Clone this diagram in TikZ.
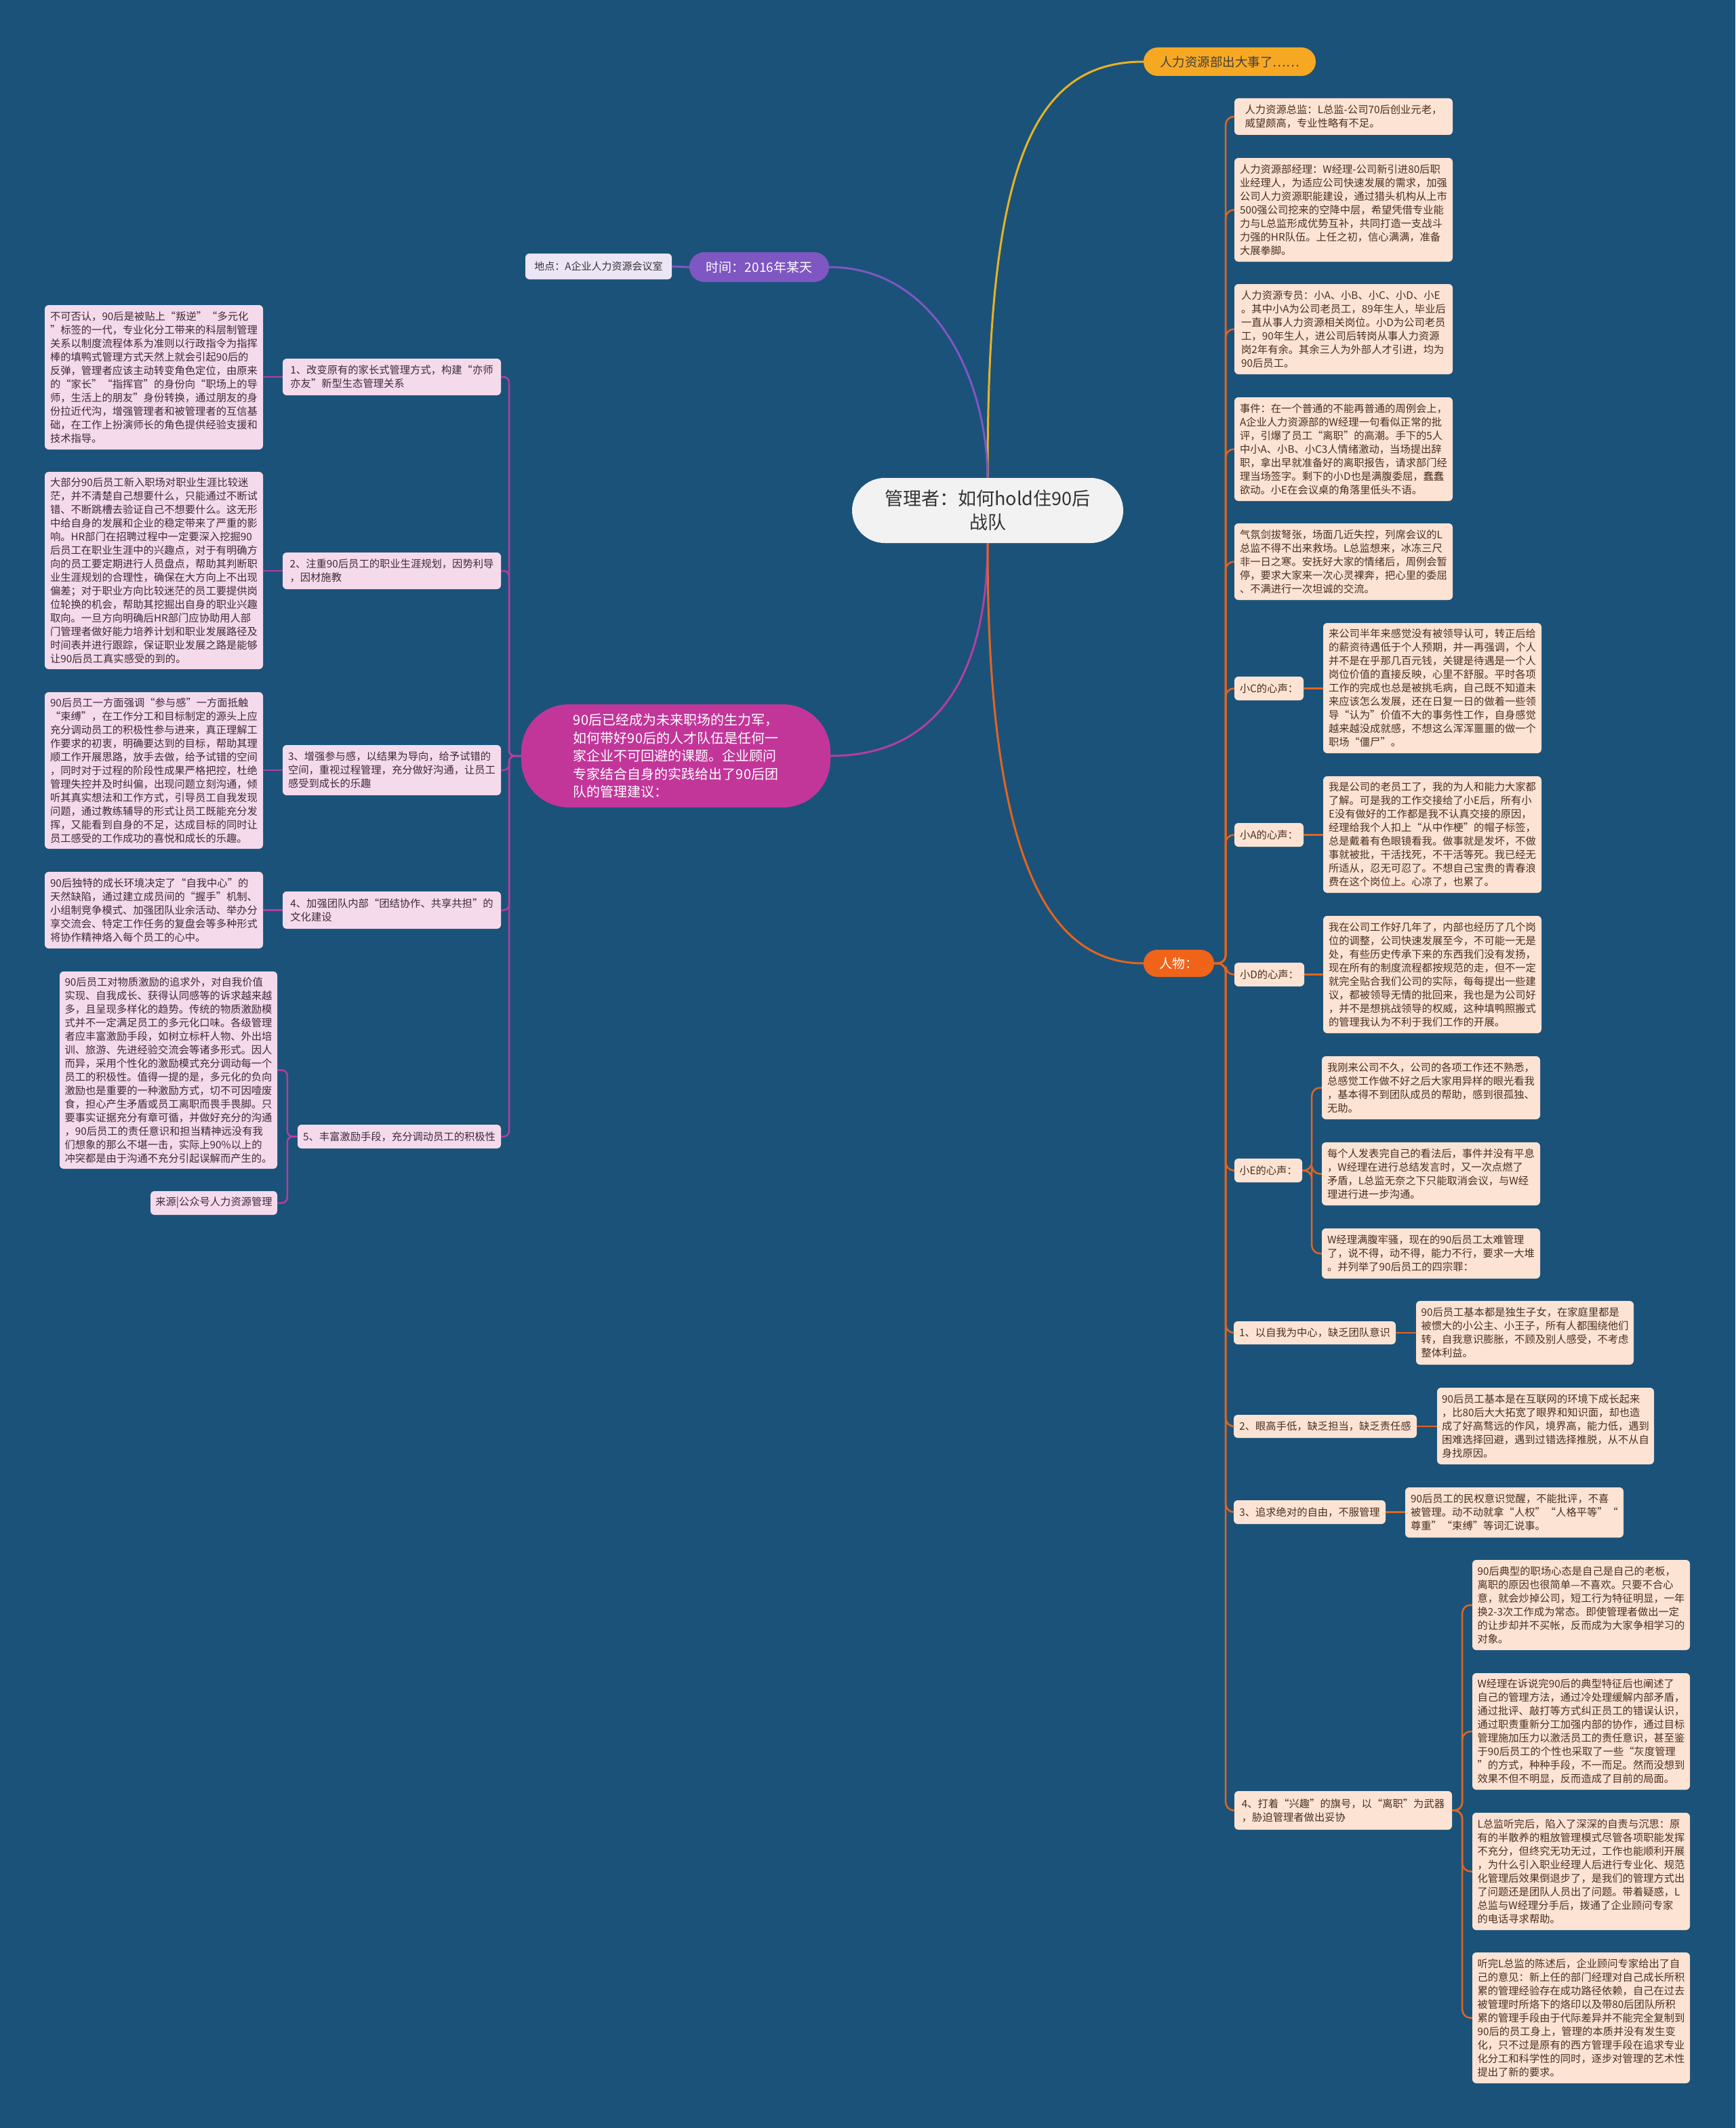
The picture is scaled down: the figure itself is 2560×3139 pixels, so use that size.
\documentclass[tikz,border=0pt]{standalone}
\usepackage{fontspec}
\setmainfont{Noto Sans CJK SC}
\definecolor{bg}{HTML}{1B5279}
\definecolor{peach}{HTML}{FCE3D3}
\definecolor{pchtext}{HTML}{4A3022}
\definecolor{pinkbox}{HTML}{F5DAEC}
\definecolor{pnktext}{HTML}{3D2A3A}
\definecolor{orline}{HTML}{E2651F}
\definecolor{renwuc}{HTML}{F0641A}
\definecolor{topc}{HTML}{F7A823}
\definecolor{yline}{HTML}{E8B224}
\definecolor{purp}{HTML}{7E57C2}
\definecolor{lav}{HTML}{ECE5F6}
\definecolor{magc}{HTML}{C2369A}
\definecolor{magl}{HTML}{B23FA0}
\definecolor{centc}{HTML}{F2F2F2}
\tikzset{
  bx/.style n args={4}{minimum width=#3, minimum height=#4, at={(#1+#3/2,#2+#4/2)}},
  base/.style={draw=none, rounded corners=6, inner sep=3, align=left, font=\fontsize{15.3}{20}\selectfont},
  pch/.style={base, fill=peach, text=pchtext},
  pnk/.style={base, fill=pinkbox, text=pnktext},
  oline/.style={draw=orline, line width=2.5, rounded corners=12},
  mline/.style={draw=magl, line width=2.5, rounded corners=8},
}
\begin{document}
\begin{tikzpicture}[x=1pt,y=-1pt]
\fill[bg] (0,0) rectangle (2560,3139);
\useasboundingbox (0,0) rectangle (2560,3139);

% ---------- main nodes ----------
\node[bx={1257}{705}{400}{96}, fill=centc, rounded corners=48, text=black!80, align=center, font=\fontsize{27}{35}\selectfont] (c) {管理者：如何hold住90后\\战队};
\node[bx={1687}{70}{254}{42}, fill=topc, rounded corners=21, text=black!75, font=\fontsize{18.5}{22}\selectfont] (top) {人力资源部出大事了……};
\node[bx={1017}{372}{206}{44}, fill=purp, rounded corners=22, text=white, font=\fontsize{19}{22}\selectfont] (time) {时间：2016年某天};
\node[bx={775}{374}{216}{38}, fill=lav, rounded corners=6, text=black!80, font=\fontsize{15}{18}\selectfont] (place) {地点：A企业人力资源会议室};
\node[bx={769}{1039}{456}{152}, fill=magc, rounded corners=70, text=white, align=left, font=\fontsize{20}{26.5}\selectfont] (mag) {90后已经成为未来职场的生力军，\\如何带好90后的人才队伍是任何一\\家企业不可回避的课题。企业顾问\\专家结合自身的实践给出了90后团\\队的管理建议：};
\node[bx={1687}{1401}{104}{40}, fill=renwuc, rounded corners=20, text=white, font=\fontsize{19}{22}\selectfont] (renwu) {人物：};

% ---------- right side ----------
\node[pch, bx={1821}{145}{322}{54}] (r1) {人力资源总监：L总监-公司70后创业元老，\\威望颇高，专业性略有不足。};
\node[pch, bx={1821}{233}{322}{153}] (r2) {人力资源部经理：W经理-公司新引进80后职\\业经理人，为适应公司快速发展的需求，加强\\公司人力资源职能建设，通过猎头机构从上市\\500强公司挖来的空降中层，希望凭借专业能\\力与L总监形成优势互补，共同打造一支战斗\\力强的HR队伍。上任之初，信心满满，准备\\大展拳脚。};
\node[pch, bx={1821}{419}{322}{133}] (r3) {人力资源专员：小A、小B、小C、小D、小E\\。其中小A为公司老员工，89年生人，毕业后\\一直从事人力资源相关岗位。小D为公司老员\\工，90年生人，进公司后转岗从事人力资源\\岗2年有余。其余三人为外部人才引进，均为\\90后员工。};
\node[pch, bx={1821}{586}{322}{153}] (r4) {事件：在一个普通的不能再普通的周例会上，\\A企业人力资源部的W经理一句看似正常的批\\评，引爆了员工“离职”的高潮。手下的5人\\中小A、小B、小C3人情绪激动，当场提出辞\\职，拿出早就准备好的离职报告，请求部门经\\理当场签字。剩下的小D也是满腹委屈，蠢蠢\\欲动。小E在会议桌的角落里低头不语。};
\node[pch, bx={1821}{772}{322}{113}] (r5) {气氛剑拔弩张，场面几近失控，列席会议的L\\总监不得不出来救场。L总监想来，冰冻三尺\\非一日之寒。安抚好大家的情绪后，周例会暂\\停，要求大家来一次心灵裸奔，把心里的委屈\\、不满进行一次坦诚的交流。};

\node[pch, bx={1821}{998}{102}{35}] (xc) {小C的心声：};
\node[pch, bx={1952}{919}{322}{192}] (xcd) {来公司半年来感觉没有被领导认可，转正后给\\的薪资待遇低于个人预期，并一再强调，个人\\并不是在乎那几百元钱，关键是待遇是一个人\\岗位价值的直接反映，心里不舒服。平时各项\\工作的完成也总是被挑毛病，自己既不知道未\\来应该怎么发展，还在日复一日的做着一些领\\导“认为”价值不大的事务性工作，自身感觉\\越来越没成就感，不想这么浑浑噩噩的做一个\\职场“僵尸”。};
\node[pch, bx={1821}{1214}{102}{35}] (xa) {小A的心声：};
\node[pch, bx={1952}{1145}{322}{172}] (xad) {我是公司的老员工了，我的为人和能力大家都\\了解。可是我的工作交接给了小E后，所有小\\E没有做好的工作都是我不认真交接的原因，\\经理给我个人扣上“从中作梗”的帽子标签，\\总是戴着有色眼镜看我。做事就是发坏，不做\\事就被批，干活找死，不干活等死。我已经无\\所适从，忍无可忍了。不想自己宝贵的青春浪\\费在这个岗位上。心凉了，也累了。};
\node[pch, bx={1821}{1420}{103}{35}] (xd) {小D的心声：};
\node[pch, bx={1952}{1351}{322}{173}] (xdd) {我在公司工作好几年了，内部也经历了几个岗\\位的调整，公司快速发展至今，不可能一无是\\处，有些历史传承下来的东西我们没有发扬，\\现在所有的制度流程都按规范的走，但不一定\\就完全贴合我们公司的实际，每每提出一些建\\议，都被领导无情的批回来，我也是为公司好\\，并不是想挑战领导的权威，这种填鸭照搬式\\的管理我认为不利于我们工作的开展。};
\node[pch, bx={1821}{1709}{100}{35}] (xe) {小E的心声：};
\node[pch, bx={1950}{1558}{322}{93}] (ea) {我刚来公司不久，公司的各项工作还不熟悉，\\总感觉工作做不好之后大家用异样的眼光看我\\，基本得不到团队成员的帮助，感到很孤独、\\无助。};
\node[pch, bx={1950}{1685}{322}{93}] (eb) {每个人发表完自己的看法后，事件并没有平息\\，W经理在进行总结发言时，又一次点燃了\\矛盾，L总监无奈之下只能取消会议，与W经\\理进行进一步沟通。};
\node[pch, bx={1950}{1812}{322}{74}] (ec) {W经理满腹牢骚，现在的90后员工太难管理\\了，说不得，动不得，能力不行，要求一大堆\\。并列举了90后员工的四宗罪：};

\node[pch, bx={1820}{1949}{239}{34}] (l1) {1、以自我为中心，缺乏团队意识};
\node[pch, bx={2089}{1919}{321}{94}] (d1) {90后员工基本都是独生子女，在家庭里都是\\被惯大的小公主、小王子，所有人都围绕他们\\转，自我意识膨胀，不顾及别人感受，不考虑\\整体利益。};
\node[pch, bx={1820}{2087}{270}{34}] (l2) {2、眼高手低，缺乏担当，缺乏责任感};
\node[pch, bx={2120}{2047}{320}{113}] (d2) {90后员工基本是在互联网的环境下成长起来\\，比80后大大拓宽了眼界和知识面，却也造\\成了好高骛远的作风，境界高，能力低，遇到\\困难选择回避，遇到过错选择推脱，从不从自\\身找原因。};
\node[pch, bx={1820}{2213}{224}{35}] (l3) {3、追求绝对的自由，不服管理};
\node[pch, bx={2073}{2194}{322}{74}] (d3) {90后员工的民权意识觉醒，不能批评，不喜\\被管理。动不动就拿“人权”“人格平等”“\\尊重”“束缚”等词汇说事。};
\node[pch, bx={1821}{2642}{321}{57}] (l4) {4、打着“兴趣”的旗号，以“离职”为武器\\，胁迫管理者做出妥协};
\node[pch, bx={2172}{2301}{321}{133}] (fa) {90后典型的职场心态是自己是自己的老板，\\离职的原因也很简单—不喜欢。只要不合心\\意，就会炒掉公司，短工行为特征明显，一年\\换2-3次工作成为常态。即使管理者做出一定\\的让步却并不买帐，反而成为大家争相学习的\\对象。};
\node[pch, bx={2172}{2468}{321}{172}] (fb) {W经理在诉说完90后的典型特征后也阐述了\\自己的管理方法，通过冷处理缓解内部矛盾，\\通过批评、敲打等方式纠正员工的错误认识，\\通过职责重新分工加强内部的协作，通过目标\\管理施加压力以激活员工的责任意识，甚至鉴\\于90后员工的个性也采取了一些“灰度管理\\”的方式，种种手段，不一而足。然而没想到\\效果不但不明显，反而造成了目前的局面。};
\node[pch, bx={2172}{2674}{321}{173}] (fc) {L总监听完后，陷入了深深的自责与沉思：原\\有的半散养的粗放管理模式尽管各项职能发挥\\不充分，但终究无功无过，工作也能顺利开展\\，为什么引入职业经理人后进行专业化、规范\\化管理后效果倒退步了，是我们的管理方式出\\了问题还是团队人员出了问题。带着疑惑，L\\总监与W经理分手后，拨通了企业顾问专家\\的电话寻求帮助。};
\node[pch, bx={2172}{2880}{321}{193}] (fd) {听完L总监的陈述后，企业顾问专家给出了自\\己的意见：新上任的部门经理对自己成长所积\\累的管理经验存在成功路径依赖，自己在过去\\被管理时所烙下的烙印以及带80后团队所积\\累的管理手段由于代际差异并不能完全复制到\\90后的员工身上，管理的本质并没有发生变\\化，只不过是原有的西方管理手段在追求专业\\化分工和科学性的同时，逐步对管理的艺术性\\提出了新的要求。};

% ---------- left side ----------
\node[pnk, bx={66}{450}{322}{213}] (ld1) {不可否认，90后是被贴上“叛逆”“多元化\\”标签的一代，专业化分工带来的科层制管理\\关系以制度流程体系为准则以行政指令为指挥\\棒的填鸭式管理方式天然上就会引起90后的\\反弹，管理者应该主动转变角色定位，由原来\\的“家长”“指挥官”的身份向“职场上的导\\师，生活上的朋友”身份转换，通过朋友的身\\份拉近代沟，增强管理者和被管理者的互信基\\础，在工作上扮演师长的角色提供经验支援和\\技术指导。};
\node[pnk, bx={417}{529}{322}{54}] (ll1) {1、改变原有的家长式管理方式，构建“亦师\\亦友”新型生态管理关系};
\node[pnk, bx={66}{696}{322}{291}] (ld2) {大部分90后员工新入职场对职业生涯比较迷\\茫，并不清楚自己想要什么，只能通过不断试\\错、不断跳槽去验证自己不想要什么。这无形\\中给自身的发展和企业的稳定带来了严重的影\\响。HR部门在招聘过程中一定要深入挖掘90\\后员工在职业生涯中的兴趣点，对于有明确方\\向的员工要定期进行人员盘点，帮助其判断职\\业生涯规划的合理性，确保在大方向上不出现\\偏差；对于职业方向比较迷茫的员工要提供岗\\位轮换的机会，帮助其挖掘出自身的职业兴趣\\取向。一旦方向明确后HR部门应协助用人部\\门管理者做好能力培养计划和职业发展路径及\\时间表并进行跟踪，保证职业发展之路是能够\\让90后员工真实感受的到的。};
\node[pnk, bx={417}{815}{322}{54}] (ll2) {2、注重90后员工的职业生涯规划，因势利导\\，因材施教};
\node[pnk, bx={66}{1021}{322}{231}] (ld3) {90后员工一方面强调“参与感”一方面抵触\\“束缚”，在工作分工和目标制定的源头上应\\充分调动员工的积极性参与进来，真正理解工\\作要求的初衷，明确要达到的目标，帮助其理\\顺工作开展思路，放手去做，给予试错的空间\\，同时对于过程的阶段性成果严格把控，杜绝\\管理失控并及时纠偏，出现问题立刻沟通，倾\\听其真实想法和工作方式，引导员工自我发现\\问题，通过教练辅导的形式让员工既能充分发\\挥，又能看到自身的不足，达成目标的同时让\\员工感受的工作成功的喜悦和成长的乐趣。};
\node[pnk, bx={417}{1099}{322}{74}] (ll3) {3、增强参与感，以结果为导向，给予试错的\\空间，重视过程管理，充分做好沟通，让员工\\感受到成长的乐趣};
\node[pnk, bx={66}{1286}{322}{113}] (ld4) {90后独特的成长环境决定了“自我中心”的\\天然缺陷，通过建立成员间的“握手”机制、\\小组制竞争模式、加强团队业余活动、举办分\\享交流会、特定工作任务的复盘会等多种形式\\将协作精神烙入每个员工的心中。};
\node[pnk, bx={417}{1315}{322}{55}] (ll4) {4、加强团队内部“团结协作、共享共担”的\\文化建设};
\node[pnk, bx={88}{1433}{321}{291}] (ld5) {90后员工对物质激励的追求外，对自我价值\\实现、自我成长、获得认同感等的诉求越来越\\多，且呈现多样化的趋势。传统的物质激励模\\式并不一定满足员工的多元化口味。各级管理\\者应丰富激励手段，如树立标杆人物、外出培\\训、旅游、先进经验交流会等诸多形式。因人\\而异，采用个性化的激励模式充分调动每一个\\员工的积极性。值得一提的是，多元化的负向\\激励也是重要的一种激励方式，切不可因噎废\\食，担心产生矛盾或员工离职而畏手畏脚。只\\要事实证据充分有章可循，并做好充分的沟通\\，90后员工的责任意识和担当精神远没有我\\们想象的那么不堪一击，实际上90\%以上的\\冲突都是由于沟通不充分引起误解而产生的。};
\node[pnk, bx={439}{1659}{300}{35}] (ll5) {5、丰富激励手段，充分调动员工的积极性};
\node[pnk, bx={222}{1757}{187}{35}] (src) {来源|公众号人力资源管理};

% ---------- connectors ----------
\begin{scope}[on background layer/.try]
\end{scope}
\draw[draw=yline, line width=3] (c.north) .. controls (1456,250) and (1520,91) .. (top.west);
\draw[draw=purp, line width=3] (c.north) .. controls (1456,560) and (1380,394) .. (time.east);
\draw[draw=purp, line width=3] (time.west) -- (place.east);
\draw[draw=magl, line width=3] (c.south) .. controls (1456,1000) and (1380,1115) .. (mag.east);
\draw[draw=orline, line width=3] (c.south) .. controls (1456,1300) and (1560,1421) .. (renwu.west);

\foreach \n in {r1,r2,r3,r4,r5,xc,xa,xd,xe,l1,l2,l3,l4}
  \draw[oline] (renwu.east) -- ++(17,0) |- (\n.west);
\draw[oline] (xc.east) -- (xcd.west |- xc.east);
\draw[oline] (xa.east) -- (xad.west |- xa.east);
\draw[oline] (xd.east) -- (xdd.west |- xd.east);
\foreach \n in {ea,eb,ec}
  \draw[oline] (xe.east) -- ++(14,0) |- (\n.west);
\draw[oline] (l1.east) -- (d1.west |- l1.east);
\draw[oline] (l2.east) -- (d2.west |- l2.east);
\draw[oline] (l3.east) -- (d3.west |- l3.east);
\foreach \n in {fa,fb,fc,fd}
  \draw[oline] (l4.east) -- ++(15,0) |- (\n.west);

\foreach \n in {ll1,ll2,ll3,ll4,ll5}
  \draw[mline] (mag.west) -- (751,1115) |- (\n.east);
\draw[mline] (ll1.west) -- (ld1.east |- ll1.west);
\draw[mline] (ll2.west) -- (ld2.east |- ll2.west);
\draw[mline] (ll3.west) -- (ld3.east |- ll3.west);
\draw[mline] (ll4.west) -- (ld4.east |- ll4.west);
\draw[mline] (ll5.west) -- ++(-15,0) |- (ld5.east);
\draw[mline] (ll5.west) -- ++(-15,0) |- (src.east);
\end{tikzpicture}
\end{document}
